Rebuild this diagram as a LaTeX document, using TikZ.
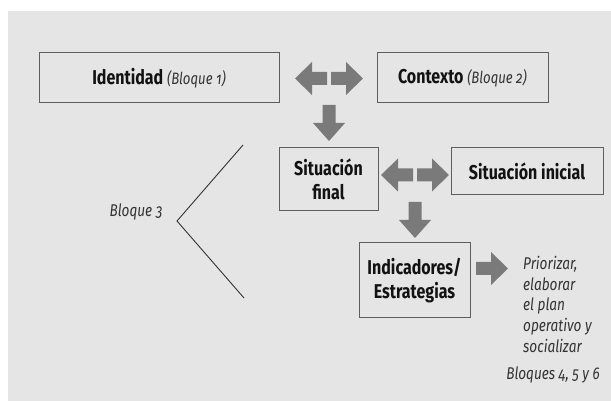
\documentclass[tikz,border=0pt]{standalone}
\usepackage{fontspec}
\setmainfont{Fira Sans}[FakeStretch=0.8, Numbers=OldStyle]
\definecolor{bggray}{HTML}{E5E5E5}
\definecolor{boxline}{HTML}{5E5E5E}
\definecolor{arrowgray}{HTML}{7A7A7A}
\definecolor{txtdark}{HTML}{121212}
\definecolor{txtit}{HTML}{333333}
\begin{document}
\begin{tikzpicture}[x=1pt,y=-1pt,
  box/.style={draw=boxline, line width=1pt, fill=bggray, inner sep=0pt, align=center,
     font=\fontsize{20}{24.5}\selectfont\bfseries, text=txtdark},
  itl/.style={font=\fontsize{17}{20.7}\selectfont\itshape, text=txtit, inner sep=0pt},
  brace/.style={draw=txtit, line width=0.9pt},
  pics/barrow/.style={code={
    \fill[arrowgray] (0,-6.5) -- (15,-6.5) -- (15,-16.5) -- (32,0) -- (15,16.5) -- (15,6.5) -- (0,6.5) -- cycle;}},
  pics/barrowlong/.style={code={
    \fill[arrowgray] (0,-6.5) -- (18,-6.5) -- (18,-16) -- (36,0) -- (18,16) -- (18,6.5) -- (0,6.5) -- cycle;}}
]
\useasboundingbox (0,0) rectangle (611,403);
\fill[white] (0,0) rectangle (611,403);
\fill[bggray] (8,11) rectangle (611,401);

% boxes
\node[box, minimum width=240pt, minimum height=50pt] (ident) at (159,78)
  {Identidad {\mdseries\itshape\fontsize{16.5}{20}\selectfont\color{txtit}(Bloque 1)}};
\node[box, minimum width=171pt, minimum height=50pt] (ctx) at (462.5,78)
  {Contexto {\mdseries\itshape\fontsize{16.5}{20}\selectfont\color{txtit}(Bloque 2)}};
\node[box, minimum width=99pt, minimum height=63pt] (sfin) at (328.5,179.5)
  {Situación\\final};
\node[box, minimum width=152pt, minimum height=47pt] (sini) at (527,171.5)
  {Situación inicial};
\node[box, minimum width=111pt, minimum height=75pt] (indic) at (414.5,280.5)
  {Indicadores/\\Estrategias};

% block arrows
\pic at (327,78.5) [rotate=180] {barrow};
\pic at (331,78.5) {barrow};
\pic at (329,105) [rotate=-90] {barrowlong};
\pic at (413,175) [rotate=180] {barrow};
\pic at (417,175) {barrow};
\pic at (415,202) [rotate=-90] {barrowlong};
\pic at (476,268.5) {barrow};

% Bloque 3
\node[itl] (b3) at (136,212) {Bloque 3};
\coordinate (v) at (177,221);
\coordinate (t) at (243,145);
\coordinate (u) at (244,298);
\draw[brace] (t) -- (v) -- (u);

% right texts
\node[itl, anchor=north west, align=left] (prio) at (523,256)
  {Priorizar,\\elaborar\\el plan\\operativo y\\socializar};
\node[itl] (bl456) at (553,375) {Bloques 4, 5 y 6};
\end{tikzpicture}
\end{document}
